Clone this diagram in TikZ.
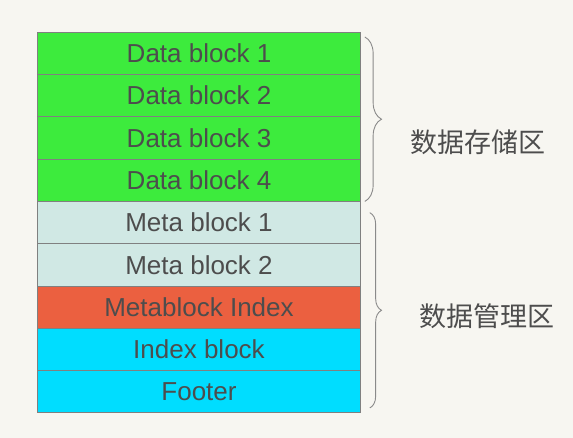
\documentclass[tikz,border=0pt]{standalone}
\usepackage{fontspec}
\setmainfont{Liberation Sans}
\newfontfamily\cjk{Noto Sans CJK SC}
\usetikzlibrary{positioning,decorations.pathreplacing}
\definecolor{pagebg}{RGB}{247,246,241}
\definecolor{datafill}{RGB}{61,235,61}
\definecolor{metafill}{RGB}{208,232,228}
\definecolor{idxfill}{RGB}{235,96,64}
\definecolor{footfill}{RGB}{0,221,255}
\definecolor{blkline}{RGB}{128,128,128}
\definecolor{brcline}{RGB}{138,138,138}
\definecolor{txtgray}{RGB}{77,77,77}
\begin{document}
\begin{tikzpicture}[x=1pt,y=1pt,
    blk/.style={draw=blkline, line width=1pt, minimum width=323pt, minimum height=42.3pt,
      inner sep=0pt, outer sep=0pt, text=txtgray, font=\fontsize{26}{30}\selectfont},
    brc/.style={draw=brcline, line width=.9pt, decorate, decoration={brace, amplitude=#1}},
    zone/.style={text=txtgray, font=\cjk\fontsize{27}{32}\selectfont}]
        \fill[pagebg] (0,0) rectangle (573,438);
        \node[blk, fill=datafill] (d1) at (199,384.6) {Data block 1};
        \node[blk, fill=datafill, below=0pt of d1] (d2) {Data block 2};
        \node[blk, fill=datafill, below=0pt of d2] (d3) {Data block 3};
        \node[blk, fill=datafill, below=0pt of d3] (d4) {Data block 4};
        \node[blk, fill=metafill, below=0pt of d4] (m1) {Meta block 1};
        \node[blk, fill=metafill, below=0pt of m1] (m2) {Meta block 2};
        \node[blk, fill=idxfill, below=0pt of m2] (mi) {Metablock Index};
        \node[blk, fill=footfill, below=0pt of mi] (ib) {Index block};
        \node[blk, fill=footfill, below=0pt of ib] (ft) {Footer};
        \draw[brc=16.7pt] ([xshift=4.3pt,yshift=-4.7pt]d1.north east) -- ([xshift=4.3pt,yshift=0pt]d4.south east);
        \draw[brc=11.7pt] ([xshift=9.3pt,yshift=-11.2pt]m1.north east) -- ([xshift=9.3pt,yshift=5pt]ft.south east);
        \node[zone] (z1) at (478,296) {数据存储区};
        \node[zone] (z2) at (487,122) {数据管理区};
      \end{tikzpicture}
\end{document}
